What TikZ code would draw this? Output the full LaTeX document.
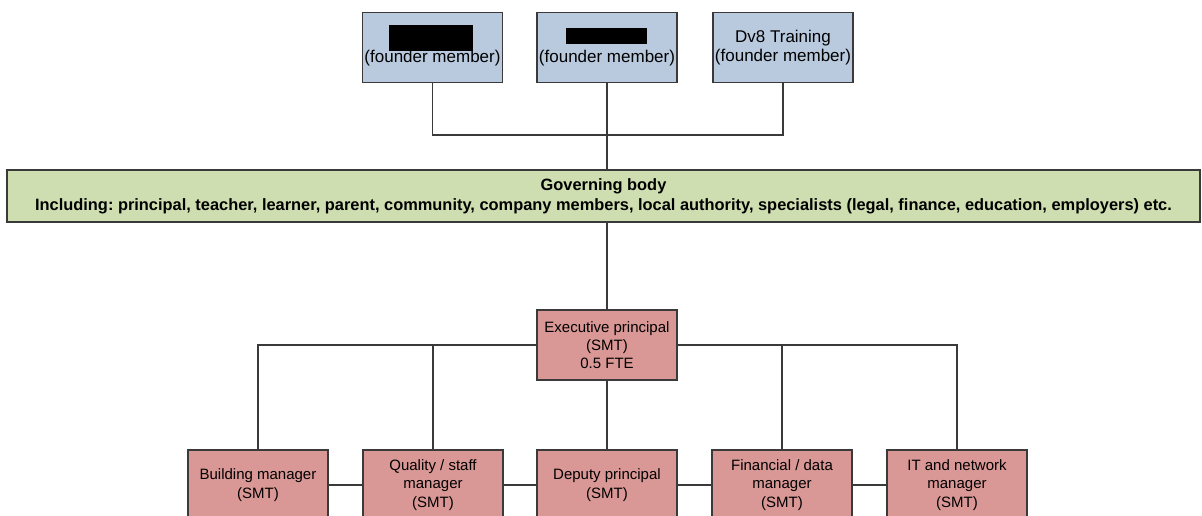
\documentclass[tikz,border=0pt]{standalone}
\usepackage{fontspec}
\setmainfont{Liberation Sans}
\frenchspacing
\definecolor{founderfill}{HTML}{B9CADF}
\definecolor{govfill}{HTML}{CFDEB0}
\definecolor{smtfill}{HTML}{D99795}
\definecolor{edge}{HTML}{3A3A3A}
\begin{document}
\begin{tikzpicture}[x=1pt,y=-1pt,
  box/.style={draw=edge,line width=1.4pt,minimum width=140pt,minimum height=70pt,
    align=center,inner sep=0pt},
  founder/.style={box,fill=founderfill,font=\fontsize{17}{19.5}\selectfont},
  smt/.style={box,fill=smtfill,font=\fontsize{15}{18.3}\selectfont},
  gov/.style={draw=edge,line width=1.4pt,fill=govfill,minimum width=1193pt,
    minimum height=52pt,align=center,inner sep=0pt,
    font=\fontsize{16.4}{20}\selectfont\bfseries},
  link/.style={draw=edge,line width=1.3pt}]
\useasboundingbox (0,0) rectangle (1202,516);
\clip (0,0) rectangle (1202,516);
\fill[white] (0,0) rectangle (1202,516);

% founder members
\node[founder] (f1) at (432.5,47.5) {\strut\\(founder member)};
\node[founder] (f2) at (607,47.5) {\strut\\(founder member)};
\node[founder] (f3) at (783,47.5) {Dv8 Training\\(founder member)};
\fill[black] (389,25) rectangle (473,51);
\fill[black] (566,28) rectangle (647,44);

% governing body
\node[gov] (gov) at (603.5,196) {Governing body\\Including: principal, teacher, learner, parent, community, company members, local authority, specialists (legal, finance, education, employers) etc.};

% senior management team
\node[smt] (ep) at (607,345) {Executive principal\\(SMT)\\0.5 FTE};
\node[smt] (bm) at (258,485) {Building manager\\(SMT)};
\node[smt] (qm) at (433,485) {Quality / staff\\manager\\(SMT)};
\node[smt] (dp) at (607,485) {Deputy principal\\(SMT)};
\node[smt] (fm) at (782,485) {Financial / data\\manager\\(SMT)};
\node[smt] (it) at (957,485) {IT and network\\manager\\(SMT)};

\coordinate (join) at (607,135);

% connectors
\draw[link] (f1.south) |- (join) -| (f3.south);
\draw[link] (f2.south) -- (f2.south |- gov.north);
\draw[link] (ep.north |- gov.south) -- (ep.north);
\draw[link] (ep.west) -| (bm.north);
\draw[link] (ep.west) -| (qm.north);
\draw[link] (ep.east) -| (fm.north);
\draw[link] (ep.east) -| (it.north);
\draw[link] (ep.south) -- (dp.north);
\draw[link] (bm.east) -- (qm.west);
\draw[link] (qm.east) -- (dp.west);
\draw[link] (dp.east) -- (fm.west);
\draw[link] (fm.east) -- (it.west);
\end{tikzpicture}
\end{document}
